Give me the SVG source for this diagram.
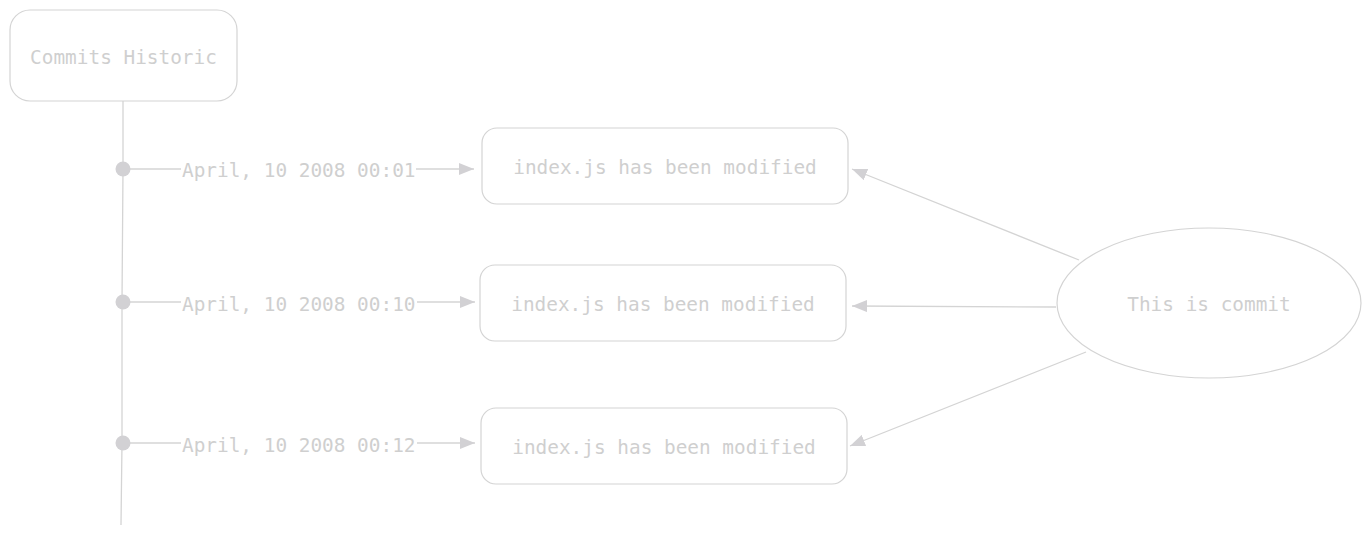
<svg xmlns="http://www.w3.org/2000/svg" width="1371" height="535" viewBox="0 0 1371 535">
<defs>
<style>
.node{fill:#ffffff;stroke:#d4d4d4;stroke-width:1.2}
.lbl{font-family:"DejaVu Sans Mono","Liberation Mono",monospace;font-size:19.4px;fill:#cfcfcf}
.edge{fill:none;stroke:#d4d4d4;stroke-width:1.3}
.dot{fill:#d2d1d4}
</style>
<marker id="ah" viewBox="0 0 15 12" refX="15" refY="6" markerWidth="15" markerHeight="12" markerUnits="userSpaceOnUse" orient="auto">
<path d="M0,0 L15,6 L0,12 z" fill="#d2d1d4"/>
</marker>
</defs>
<rect width="1371" height="535" fill="#ffffff"/>
<g id="connectors">
<path class="edge" d="M123,101 L123,169 L122,302 L122,443 L121,525"/>
<line class="edge" x1="123" y1="169" x2="181" y2="169"/>
<line class="edge" x1="416" y1="169" x2="474" y2="169" marker-end="url(#ah)"/>
<line class="edge" x1="123" y1="302" x2="181" y2="302"/>
<line class="edge" x1="417" y1="302" x2="475" y2="302" marker-end="url(#ah)"/>
<line class="edge" x1="123" y1="443" x2="181" y2="443"/>
<line class="edge" x1="417" y1="443" x2="475" y2="443" marker-end="url(#ah)"/>
<line class="edge" x1="1079" y1="260" x2="852" y2="169" marker-end="url(#ah)"/>
<line class="edge" x1="1056" y1="307" x2="852" y2="306" marker-end="url(#ah)"/>
<line class="edge" x1="1086" y1="352" x2="850" y2="446" marker-end="url(#ah)"/>
<circle class="dot" cx="123" cy="169" r="7.5"/>
<circle class="dot" cx="123" cy="302" r="7.5"/>
<circle class="dot" cx="123" cy="443" r="7.5"/>
<text class="lbl" x="182" y="176.5">April, 10 2008 00:01</text>
<text class="lbl" x="182" y="310.5">April, 10 2008 00:10</text>
<text class="lbl" x="182" y="451.5">April, 10 2008 00:12</text>
</g>
<g id="commits-historic">
<rect class="node" x="10" y="10" width="227" height="91" rx="20"/>
<text class="lbl" x="123.5" y="64" text-anchor="middle">Commits Historic</text>
</g>
<g id="change-1">
<rect class="node" x="482" y="128" width="366" height="76" rx="15"/>
<text class="lbl" x="665" y="173.5" text-anchor="middle">index.js has been modified</text>
</g>
<g id="change-2">
<rect class="node" x="480" y="265" width="366" height="76" rx="15"/>
<text class="lbl" x="663" y="310.5" text-anchor="middle">index.js has been modified</text>
</g>
<g id="change-3">
<rect class="node" x="481" y="408" width="366" height="76" rx="15"/>
<text class="lbl" x="664" y="453.5" text-anchor="middle">index.js has been modified</text>
</g>
<g id="commit">
<ellipse class="node" cx="1209" cy="303" rx="152" ry="75"/>
<text class="lbl" x="1209" y="310.5" text-anchor="middle">This is commit</text>
</g>
</svg>
